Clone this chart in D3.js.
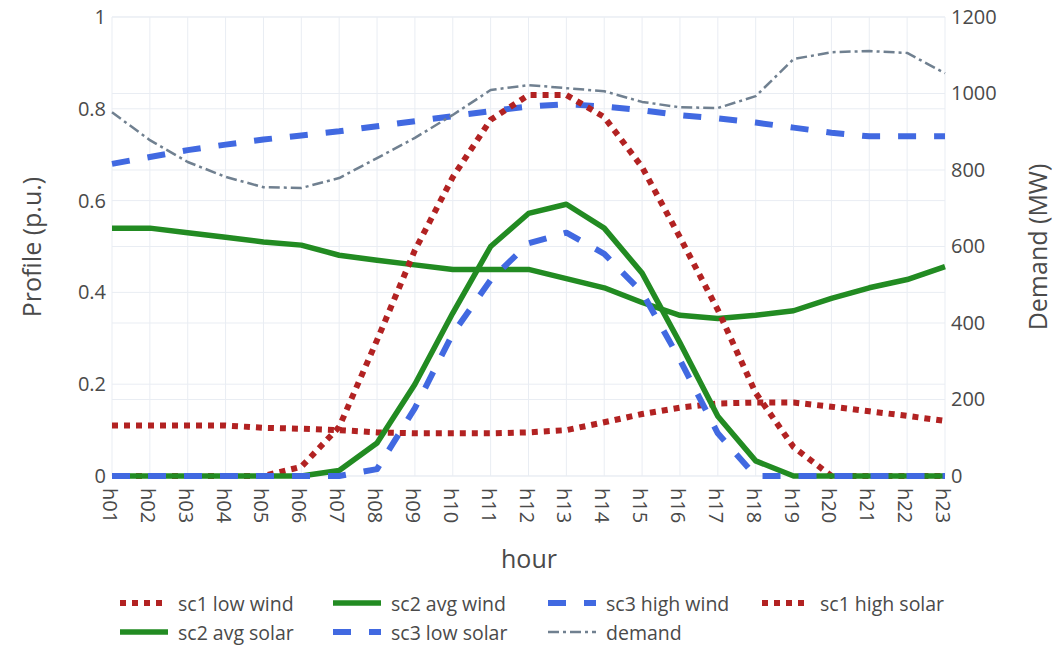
<!DOCTYPE html>
<html>
<head>
<meta charset="utf-8">
<script src="https://cdn.jsdelivr.net/npm/d3@7"></script>
<style>
  body { margin: 0; background: #ffffff; }
  svg { display: block; }
  text { font-family: "Open Sans", "DejaVu Sans", sans-serif; fill: #4a4a4a; }
</style>
</head>
<body>
<svg id="chart" width="1059" height="645"></svg>
<script>
// ---------------- DATA ----------------
const hours = ["h01","h02","h03","h04","h05","h06","h07","h08","h09","h10","h11","h12",
               "h13","h14","h15","h16","h17","h18","h19","h20","h21","h22","h23"];

const sc1LowWind   = [0.11,0.11,0.11,0.11,0.105,0.103,0.10,0.095,0.093,0.093,0.093,0.095,
                      0.10,0.117,0.135,0.149,0.158,0.16,0.16,0.151,0.141,0.131,0.12];
const sc2AvgWind   = [0.54,0.54,0.53,0.52,0.51,0.503,0.481,0.47,0.46,0.45,0.45,0.45,
                      0.43,0.41,0.378,0.35,0.343,0.35,0.36,0.387,0.41,0.428,0.456];
const sc3HighWind  = [0.68,0.695,0.71,0.722,0.733,0.742,0.751,0.762,0.773,0.784,0.795,0.805,
                      0.81,0.805,0.797,0.786,0.779,0.77,0.759,0.748,0.74,0.74,0.74];
const sc1HighSolar = [0,0,0,0,0,0.02,0.107,0.296,0.492,0.651,0.776,0.83,
                      0.83,0.782,0.673,0.52,0.362,0.181,0.063,0,0,0,0];
const sc2AvgSolar  = [0,0,0,0,0,0,0.012,0.072,0.2,0.355,0.5,0.572,
                      0.592,0.54,0.442,0.29,0.13,0.033,0,0,0,0,0];
const sc3LowSolar  = [0,0,0,0,0,0,0,0.015,0.148,0.31,0.427,0.507,
                      0.53,0.484,0.4,0.253,0.093,0,0,0,0,0,0];
const demandMW     = [951,878,821,782,755,753,779,831,884,944,1009,1022,
                      1014,1006,978,964,962,993,1090,1108,1111,1106,1053];

const leftTicks  = [0, 0.2, 0.4, 0.6, 0.8, 1];
const rightTicks = [0, 200, 400, 600, 800, 1000, 1200];

const seriesNames = ["sc1 low wind","sc2 avg wind","sc3 high wind","sc1 high solar",
                     "sc2 avg solar","sc3 low solar","demand"];
const seriesValues = [sc1LowWind, sc2AvgWind, sc3HighWind, sc1HighSolar,
                      sc2AvgSolar, sc3LowSolar, demandMW];

// ---------------- STYLES ----------------
const RED = "#b22222", GREEN = "#228b22", BLUE = "#4169e1", GRAY = "#708090";
const styles = [
  {color: RED,   dash: "6,6",   width: 6, axis: "left"},
  {color: GREEN, dash: null,    width: 5.5, axis: "left"},
  {color: BLUE,  dash: "18,18", width: 6, axis: "left"},
  {color: RED,   dash: "6,6",   width: 6, axis: "left"},
  {color: GREEN, dash: null,    width: 5.5, axis: "left"},
  {color: BLUE,  dash: "18,18", width: 6, axis: "left"},
  {color: GRAY,  dash: "11,4,3,4", width: 2.5, axis: "right"}
];

// ---------------- LAYOUT ----------------
const svg = d3.select("#chart");
const plot = {left: 112, right: 945, top: 17, bottom: 476};
const gridColor = "#e9edf3";

const x = d3.scalePoint().domain(hours).range([plot.left, plot.right]);
const yL = d3.scaleLinear().domain([0, 1]).range([plot.bottom, plot.top]);
const yR = d3.scaleLinear().domain([0, 1200]).range([plot.bottom, plot.top]);

// grid
const grid = svg.append("g");
grid.selectAll(".vg").data(hours).join("line")
  .attr("x1", d => x(d)).attr("x2", d => x(d))
  .attr("y1", plot.top).attr("y2", plot.bottom)
  .attr("stroke", gridColor).attr("stroke-width", 1);
grid.selectAll(".hgL").data(leftTicks).join("line")
  .attr("x1", plot.left).attr("x2", plot.right)
  .attr("y1", d => yL(d)).attr("y2", d => yL(d))
  .attr("stroke", gridColor).attr("stroke-width", 1);
grid.selectAll(".hgR").data(rightTicks).join("line")
  .attr("x1", plot.left).attr("x2", plot.right)
  .attr("y1", d => yR(d)).attr("y2", d => yR(d))
  .attr("stroke", gridColor).attr("stroke-width", 1);

// axes (labels only, via d3 axes)
const axL = svg.append("g").attr("transform", `translate(${plot.left},0)`)
  .call(d3.axisLeft(yL).tickValues(leftTicks).tickSize(0).tickPadding(6)
        .tickFormat(d => String(+d.toFixed(1))));
const axR = svg.append("g").attr("transform", `translate(${plot.right},0)`)
  .call(d3.axisRight(yR).tickValues(rightTicks).tickSize(0).tickPadding(6)
        .tickFormat(d3.format("d")));
const axB = svg.append("g").attr("transform", `translate(0,${plot.bottom})`)
  .call(d3.axisBottom(x).tickSize(0).tickPadding(0));
[axL, axR, axB].forEach(a => {
  a.select(".domain").remove();
  a.selectAll("text").style("font-size", "20px").attr("fill", "#4a4a4a")
   .style("font-family", '"Open Sans", sans-serif');
});
axB.selectAll("text")
  .attr("y", 0).attr("dy", null)
  .attr("transform", "translate(-2,12) rotate(90)")
  .attr("text-anchor", "start")
  .attr("dominant-baseline", "central")
  .attr("x", 0);

// axis titles
svg.append("text").attr("x", 529).attr("y", 558)
  .attr("text-anchor", "middle").attr("dominant-baseline", "central")
  .style("font-size", "25px").text("hour");
svg.append("text").attr("transform", "translate(31,247) rotate(-90)")
  .attr("text-anchor", "middle").attr("dominant-baseline", "central")
  .style("font-size", "25px").text("Profile (p.u.)");
svg.append("text").attr("transform", "translate(1037,247) rotate(-90)")
  .attr("text-anchor", "middle").attr("dominant-baseline", "central")
  .style("font-size", "25px").text("Demand (MW)");

// lines
const lines = svg.append("g");
seriesValues.forEach((vals, i) => {
  const st = styles[i];
  const ys = st.axis === "left" ? yL : yR;
  const gen = d3.line().x((d, j) => x(hours[j])).y(d => ys(d));
  lines.append("path").datum(vals)
    .attr("d", gen)
    .attr("fill", "none")
    .attr("stroke", st.color)
    .attr("stroke-width", st.width)
    .attr("stroke-dasharray", st.dash)
    .attr("stroke-linejoin", "round");
});

// legend
const legCols = [120, 333, 548, 762];
const legRows = [603, 632];
const legend = svg.append("g");
seriesNames.forEach((name, i) => {
  const st = styles[i];
  const cx = legCols[i % 4], cy = legRows[Math.floor(i / 4)];
  legend.append("line")
    .attr("x1", cx).attr("x2", cx + 48).attr("y1", cy).attr("y2", cy)
    .attr("stroke", st.color).attr("stroke-width", st.width)
    .attr("stroke-dasharray", st.dash);
  legend.append("text").attr("x", cx + 58).attr("y", cy)
    .attr("dominant-baseline", "central")
    .style("font-size", "19.5px").text(name);
});
</script>
</body>
</html>
